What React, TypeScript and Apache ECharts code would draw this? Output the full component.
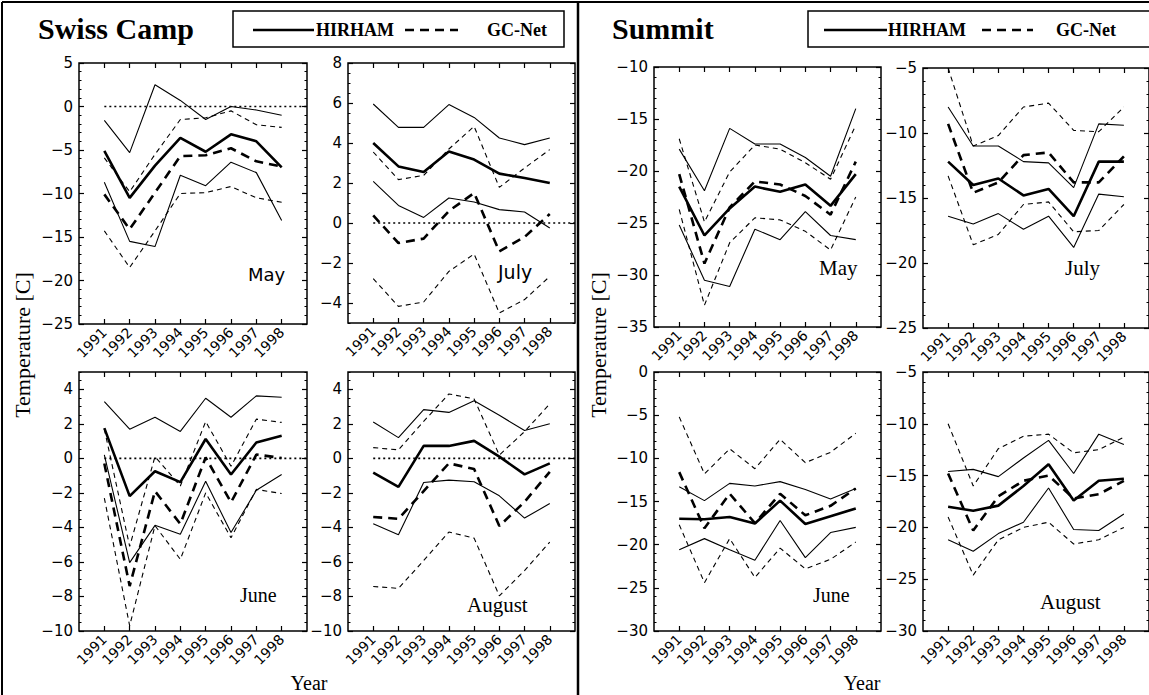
import React, { useEffect, useRef } from "react";
import * as echarts from "echarts";

const years = [1991, 1992, 1993, 1994, 1995, 1996, 1997, 1998];

// Swiss Camp, May
const swissMayHirham = [-5.1, -10.5, -6.8, -3.6, -5.2, -3.2, -4.0, -7.0];
const swissMayHirhamUp = [-1.6, -5.3, 2.5, 0.7, -1.5, 0.0, -0.4, -1.0];
const swissMayHirhamLo = [-8.7, -15.5, -16.1, -7.9, -9.1, -6.4, -7.6, -13.1];
const swissMayGcnet = [-10.1, -14.1, -9.9, -5.7, -5.6, -4.8, -6.3, -6.9];
const swissMayGcnetUp = [-5.9, -9.8, -5.5, -1.5, -1.3, -0.5, -2.1, -2.4];
const swissMayGcnetLo = [-14.3, -18.5, -14.3, -10.0, -9.9, -9.2, -10.5, -11.0];

// Swiss Camp, July
const swissJulHirham = [4.0, 2.83, 2.55, 3.58, 3.17, 2.47, 2.25, 2.0];
const swissJulHirhamUp = [5.95, 4.78, 4.78, 5.92, 5.28, 4.25, 3.92, 4.25];
const swissJulHirhamLo = [2.08, 0.88, 0.28, 1.25, 1.05, 0.67, 0.55, -0.25];
const swissJulGcnet = [0.38, -1.0, -0.78, 0.6, 1.5, -1.42, -0.7, 0.45];
const swissJulGcnetUp = [3.55, 2.17, 2.38, 3.7, 4.83, 1.78, 2.75, 3.67];
const swissJulGcnetLo = [-2.78, -4.17, -3.95, -2.42, -1.55, -4.5, -3.83, -2.67];

// Swiss Camp, June
const swissJunHirham = [1.75, -2.19, -0.75, -1.38, 1.12, -0.94, 0.92, 1.31];
const swissJunHirhamUp = [3.29, 1.69, 2.38, 1.56, 3.48, 2.38, 3.62, 3.54];
const swissJunHirhamLo = [0.2, -6.04, -3.88, -4.4, -1.33, -4.3, -1.85, -0.94];
const swissJunGcnet = [-0.3, -7.4, -1.9, -3.8, 0.05, -2.55, 0.22, 0.02];
const swissJunGcnetUp = [1.7, -5.1, 0.1, -1.6, 2.13, -0.46, 2.27, 2.08];
const swissJunGcnetLo = [-2.3, -9.7, -3.9, -5.85, -2.0, -4.6, -1.8, -2.04];

// Swiss Camp, August
const swissAugHirham = [-0.83, -1.65, 0.72, 0.72, 1.01, 0.1, -0.93, -0.29];
const swissAugHirhamUp = [2.1, 1.2, 2.82, 2.66, 3.34, 2.49, 1.61, 2.0];
const swissAugHirhamLo = [-3.79, -4.43, -1.4, -1.26, -1.36, -2.17, -3.46, -2.62];
const swissAugGcnet = [-3.4, -3.5, -1.9, -0.29, -0.62, -3.92, -2.52, -0.78];
const swissAugGcnetUp = [0.62, 0.49, 2.14, 3.73, 3.44, 0.19, 1.55, 3.15];
const swissAugGcnetLo = [-7.42, -7.53, -5.92, -4.27, -4.62, -7.96, -6.5, -4.85];

// Summit, May
const summitMayHirham = [-21.5, -26.2, -23.6, -21.5, -22.0, -21.3, -23.35, -20.3];
const summitMayHirhamUp = [-17.9, -21.9, -15.9, -17.4, -17.4, -18.7, -20.5, -14.0];
const summitMayHirhamLo = [-25.2, -30.5, -31.1, -25.6, -26.6, -23.9, -26.2, -26.6];
const summitMayGcnet = [-20.3, -28.9, -23.5, -21.0, -21.3, -22.4, -24.2, -19.1];
const summitMayGcnetUp = [-16.9, -24.9, -20.1, -17.5, -17.9, -19.2, -20.8, -15.6];
const summitMayGcnetLo = [-23.7, -32.9, -26.9, -24.5, -24.7, -25.8, -27.6, -22.5];

// Summit, July
const summitJulHirham = [-12.2, -14.0, -13.5, -14.8, -14.3, -16.4, -12.2, -12.2];
const summitJulHirhamUp = [-8.0, -11.0, -11.0, -12.2, -12.3, -14.2, -9.3, -9.4];
const summitJulHirhamLo = [-16.4, -17.0, -16.2, -17.4, -16.4, -18.8, -14.7, -14.9];
const summitJulGcnet = [-9.3, -14.6, -13.8, -11.7, -11.5, -13.8, -13.8, -11.8];
const summitJulGcnetUp = [-5.0, -11.0, -10.2, -8.0, -7.7, -9.8, -9.9, -8.0];
const summitJulGcnetLo = [-13.3, -18.6, -17.8, -15.5, -15.3, -17.6, -17.5, -15.5];

// Summit, June
const summitJunHirham = [-17.0, -17.05, -16.8, -17.55, -14.9, -17.6, -16.7, -15.8];
const summitJunHirhamUp = [-13.3, -14.9, -12.9, -13.2, -12.7, -13.6, -14.7, -13.5];
const summitJunHirhamLo = [-20.6, -19.3, -20.6, -21.8, -17.2, -21.5, -18.6, -18.0];
const summitJunGcnet = [-11.6, -18.1, -14.1, -17.5, -14.1, -16.6, -15.5, -13.5];
const summitJunGcnetUp = [-5.2, -11.8, -8.9, -11.2, -7.8, -10.5, -9.3, -7.1];
const summitJunGcnetLo = [-17.7, -24.4, -19.3, -23.8, -20.4, -22.8, -21.7, -19.7];

// Summit, August
const summitAugHirham = [-18.0, -18.4, -17.9, -16.0, -13.9, -17.4, -15.5, -15.3];
const summitAugHirhamUp = [-14.6, -14.4, -15.1, -13.3, -11.6, -14.8, -11.0, -12.0];
const summitAugHirhamLo = [-21.2, -22.3, -20.6, -19.5, -16.2, -20.2, -20.3, -18.7];
const summitAugGcnet = [-14.8, -20.3, -17.0, -15.5, -15.0, -17.2, -16.8, -15.5];
const summitAugGcnetUp = [-10.0, -16.0, -12.4, -11.2, -11.0, -12.8, -12.5, -11.3];
const summitAugGcnetLo = [-19.0, -24.6, -21.2, -20.0, -19.5, -21.6, -21.2, -20.0];

const SANS = '"DejaVu Sans", "Liberation Sans", sans-serif';
const SERIF = '"Liberation Serif", "Times New Roman", serif';

type Panel = {
  grid: { left: number; top: number; width: number; height: number };
  yMin: number;
  yMax: number;
  major: number;
  minor: number;
  zero: boolean;
  lines: number[][];
  month: string;
  monthX: number;
  monthY: number;
  monthFont: string;
};

const panels: Panel[] = [
  {
    grid: { left: 79, top: 63, width: 228, height: 261 },
    yMin: -25, yMax: 5, major: 5, minor: 1, zero: true,
    lines: [swissMayHirham, swissMayHirhamUp, swissMayHirhamLo, swissMayGcnet, swissMayGcnetUp, swissMayGcnetLo],
    month: "May", monthX: 248, monthY: 283, monthFont: `18px ${SANS}`,
  },
  {
    grid: { left: 348, top: 63, width: 227, height: 260 },
    yMin: -5, yMax: 8, major: 2, minor: 0.5, zero: true,
    lines: [swissJulHirham, swissJulHirhamUp, swissJulHirhamLo, swissJulGcnet, swissJulGcnetUp, swissJulGcnetLo],
    month: "July", monthX: 498, monthY: 281, monthFont: `19px ${SANS}`,
  },
  {
    grid: { left: 79, top: 372, width: 228, height: 259 },
    yMin: -10, yMax: 5, major: 2, minor: 0.5, zero: true,
    lines: [swissJunHirham, swissJunHirhamUp, swissJunHirhamLo, swissJunGcnet, swissJunGcnetUp, swissJunGcnetLo],
    month: "June", monthX: 240, monthY: 605, monthFont: `20px ${SERIF}`,
  },
  {
    grid: { left: 348, top: 372, width: 227, height: 259 },
    yMin: -10, yMax: 5, major: 2, minor: 0.5, zero: true,
    lines: [swissAugHirham, swissAugHirhamUp, swissAugHirhamLo, swissAugGcnet, swissAugGcnetUp, swissAugGcnetLo],
    month: "August", monthX: 467, monthY: 615, monthFont: `21px ${SERIF}`,
  },
  {
    grid: { left: 654, top: 67, width: 227, height: 260 },
    yMin: -35, yMax: -10, major: 5, minor: 1, zero: false,
    lines: [summitMayHirham, summitMayHirhamUp, summitMayHirhamLo, summitMayGcnet, summitMayGcnetUp, summitMayGcnetLo],
    month: "May", monthX: 819, monthY: 278, monthFont: `21px ${SERIF}`,
  },
  {
    grid: { left: 923, top: 68, width: 228, height: 260 },
    yMin: -25, yMax: -5, major: 5, minor: 1, zero: false,
    lines: [summitJulHirham, summitJulHirhamUp, summitJulHirhamLo, summitJulGcnet, summitJulGcnetUp, summitJulGcnetLo],
    month: "July", monthX: 1065, monthY: 278, monthFont: `21px ${SERIF}`,
  },
  {
    grid: { left: 654, top: 372, width: 227, height: 259 },
    yMin: -30, yMax: 0, major: 5, minor: 1, zero: false,
    lines: [summitJunHirham, summitJunHirhamUp, summitJunHirhamLo, summitJunGcnet, summitJunGcnetUp, summitJunGcnetLo],
    month: "June", monthX: 813, monthY: 605, monthFont: `20px ${SERIF}`,
  },
  {
    grid: { left: 923, top: 372, width: 228, height: 259 },
    yMin: -30, yMax: -5, major: 5, minor: 1, zero: false,
    lines: [summitAugHirham, summitAugHirhamUp, summitAugHirhamLo, summitAugGcnet, summitAugGcnetUp, summitAugGcnetLo],
    month: "August", monthX: 1040, monthY: 612, monthFont: `21px ${SERIF}`,
  },
];

const lineStyles = [
  { width: 2.6, type: "solid" as any },
  { width: 1.1, type: "solid" as any },
  { width: 1.1, type: "solid" as any },
  { width: 2.6, type: [9, 6] as any },
  { width: 1.1, type: [5, 4] as any },
  { width: 1.1, type: [5, 4] as any },
];

function steps(min: number, max: number, step: number): number[] {
  const out: number[] = [];
  const start = Math.ceil(min / step - 1e-9) * step;
  for (let v = start; v <= max + 1e-9; v += step) out.push(Math.round(v * 1000) / 1000);
  return out;
}

const fmt = (v: number) => String(v).replace("-", "\u2212");

function buildOption() {
  const grid: any[] = [];
  const xAxis: any[] = [];
  const yAxis: any[] = [];
  const series: any[] = [];
  const graphic: any[] = [];

  panels.forEach((p, i) => {
    grid.push({ ...p.grid, show: true, borderColor: "#000", borderWidth: 1.5, backgroundColor: "transparent" });
    const xBase = {
      gridIndex: i, type: "value", min: 1990, max: 1999, interval: 1,
      axisLine: { show: false, onZero: false }, splitLine: { show: false },
      axisTick: { show: true, inside: true, length: 5, customValues: years, lineStyle: { color: "#000", width: 1.2 } },
    };
    xAxis.push({
      ...xBase, position: "bottom",
      axisLabel: {
        show: true, customValues: years, rotate: 45, margin: 6,
        fontFamily: SANS, fontSize: 14, color: "#000",
        formatter: (v: number) => String(v),
      },
    });
    xAxis.push({ ...xBase, position: "top", axisLabel: { show: false } });

    const majors = steps(p.yMin, p.yMax, p.major);
    const minors = steps(p.yMin, p.yMax, p.minor).filter((v) => !majors.some((m) => Math.abs(m - v) < 1e-6));
    const yBase = {
      gridIndex: i, type: "value", min: p.yMin, max: p.yMax, interval: p.minor,
      axisLine: { show: false, onZero: false }, splitLine: { show: false },
    };
    yAxis.push({
      ...yBase, position: "left",
      axisTick: { show: true, inside: true, length: 5, customValues: majors, lineStyle: { color: "#000", width: 1.2 } },
      axisLabel: { show: true, customValues: majors, margin: 6, fontFamily: SANS, fontSize: 15, color: "#000", formatter: fmt },
    });
    yAxis.push({
      ...yBase, position: "left",
      axisTick: { show: true, inside: true, length: 2.5, customValues: minors, lineStyle: { color: "#000", width: 1 } },
      axisLabel: { show: false },
    });
    yAxis.push({
      ...yBase, position: "right",
      axisTick: { show: true, inside: true, length: 5, customValues: majors, lineStyle: { color: "#000", width: 1.2 } },
      axisLabel: { show: false },
    });
    yAxis.push({
      ...yBase, position: "right",
      axisTick: { show: true, inside: true, length: 2.5, customValues: minors, lineStyle: { color: "#000", width: 1 } },
      axisLabel: { show: false },
    });

    if (p.zero) {
      series.push({
        type: "line", xAxisIndex: 2 * i, yAxisIndex: 4 * i, symbol: "none", silent: true,
        data: [[1991, 0], [1999, 0]],
        lineStyle: { color: "#000", width: 1.6, type: [2, 3] },
        z: 1,
      });
    }
    p.lines.forEach((arr, k) => {
      series.push({
        type: "line", xAxisIndex: 2 * i, yAxisIndex: 4 * i, symbol: "none", silent: true,
        data: years.map((yr, j) => [yr, arr[j]]),
        lineStyle: { color: "#000", width: lineStyles[k].width, type: lineStyles[k].type },
        z: 2,
      });
    });

    graphic.push({
      type: "text", x: p.monthX, y: p.monthY,
      style: { text: p.month, font: p.monthFont, fill: "#000", textAlign: "left", textVerticalAlign: "bottom", align: "left", verticalAlign: "bottom" },
    });
  });

  // Frame
  const frame = { stroke: "#000", lineWidth: 2 };
  graphic.push({ type: "line", shape: { x1: 2, y1: 2, x2: 1149, y2: 2 }, style: frame });
  graphic.push({ type: "line", shape: { x1: 2, y1: 2, x2: 2, y2: 695 }, style: frame });
  graphic.push({ type: "line", shape: { x1: 578, y1: 2, x2: 578, y2: 695 }, style: { stroke: "#000", lineWidth: 2.5 } });

  // Titles
  const title = (text: string, x: number) => ({
    type: "text", x, y: 43,
    style: { text, font: `bold 30px ${SERIF}`, fill: "#000", textAlign: "left", textVerticalAlign: "bottom", align: "left", verticalAlign: "bottom" },
  });
  graphic.push(title("Swiss Camp", 38));
  graphic.push(title("Summit", 612));

  // Legend boxes
  const legend = (bx: number, bw: number, sx1: number, sx2: number, hx: number, dx1: number, dx2: number, gx: number) => {
    const items: any[] = [];
    items.push({ type: "rect", shape: { x: bx, y: 11, width: bw, height: 36 }, style: { fill: "#fff", stroke: "#000", lineWidth: 1.5 } });
    items.push({ type: "line", shape: { x1: sx1, y1: 30, x2: sx2, y2: 30 }, style: { stroke: "#000", lineWidth: 2.5 } });
    items.push({ type: "line", shape: { x1: dx1, y1: 30, x2: dx2, y2: 30 }, style: { stroke: "#000", lineWidth: 2.5, lineDash: [9, 6] } });
    const lbl = (text: string, x: number) => ({
      type: "text", x, y: 30,
      style: { text, font: `bold 18px ${SERIF}`, fill: "#000", textAlign: "left", textVerticalAlign: "middle", align: "left", verticalAlign: "middle" },
    });
    items.push(lbl("HIRHAM", hx));
    items.push(lbl("GC-Net", gx));
    return items;
  };
  graphic.push(...legend(233, 331, 253, 314, 316, 405, 458, 487));
  graphic.push(...legend(808, 345, 824, 887, 888, 982, 1033, 1056));

  // Axis titles
  const yearText = (x: number) => ({
    type: "text", x, y: 693,
    style: { text: "Year", font: `20px ${SERIF}`, fill: "#000", textAlign: "center", textVerticalAlign: "bottom", align: "center", verticalAlign: "bottom" },
  });
  graphic.push(yearText(309));
  graphic.push(yearText(862));
  const tempText = (x: number) => ({
    type: "text", x, y: 345, rotation: Math.PI / 2,
    style: { text: "Temperature [C]", font: `22px ${SERIF}`, fill: "#000", textAlign: "center", textVerticalAlign: "middle", align: "center", verticalAlign: "middle" },
  });
  graphic.push(tempText(22));
  graphic.push(tempText(598));

  return {
    animation: false,
    backgroundColor: "#fff",
    grid, xAxis, yAxis, series, graphic,
  };
}

export default function App() {
  const ref = useRef<HTMLDivElement>(null);
  useEffect(() => {
    if (!ref.current) return;
    const chart = echarts.init(ref.current, undefined, { renderer: "svg" });
    chart.setOption(buildOption() as any);
    return () => chart.dispose();
  }, []);
  return (
    <div
      ref={ref}
      style={{ position: "absolute", left: 0, top: 0, width: 1149, height: 695, background: "#fff" }}
    />
  );
}
